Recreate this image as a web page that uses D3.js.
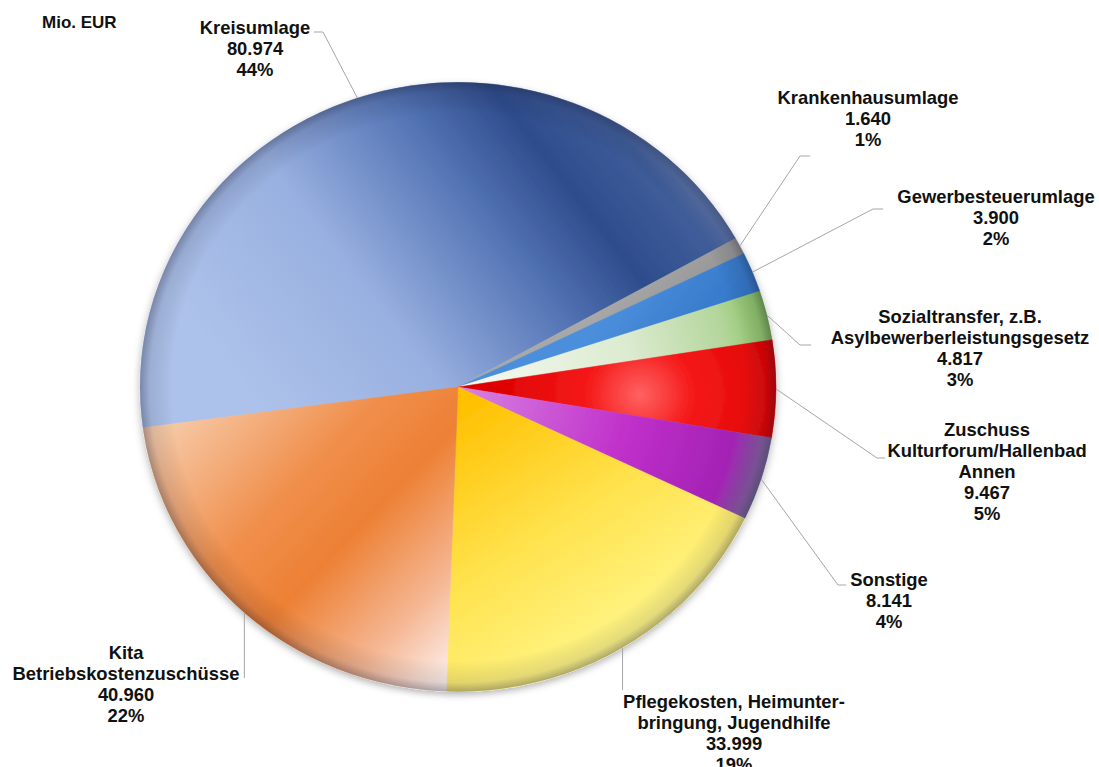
<!DOCTYPE html>
<html>
<head>
<meta charset="utf-8">
<script src="https://cdn.jsdelivr.net/npm/d3@7"></script>
<style>
  html, body { margin: 0; padding: 0; background: #ffffff; }
  svg { display: block; }
  text { font-family: "Liberation Sans", Arial, sans-serif; font-weight: bold; fill: #111; }
</style>
</head>
<body>
<svg id="chart" width="1099" height="767"></svg>
<script>
// Expenditure items (Mio. EUR), clockwise from the left side of the pie
const categories = [
  ["Kreisumlage"],
  ["Krankenhausumlage"],
  ["Gewerbesteuerumlage"],
  ["Sozialtransfer, z.B.", "Asylbewerberleistungsgesetz"],
  ["Zuschuss", "Kulturforum/Hallenbad", "Annen"],
  ["Sonstige"],
  ["Pflegekosten, Heimunter-", "bringung, Jugendhilfe"],
  ["Kita", "Betriebskostenzuschüsse"]
];
const values = [80.974, 1.640, 3.900, 4.817, 9.467, 8.141, 33.999, 40.960];
const percentLabels = ["44%", "1%", "2%", "3%", "5%", "4%", "19%", "22%"];
const unitLabel = "Mio. EUR";

// Layout
const cx = 458, cy = 387, radius = 318, yScale = 0.958;
const startDeg = 262.3;
const fontSize = 18.4, lineGap = 21;
// label block: centre x, first baseline y, elbow point and end of the leader line
const labelLayout = [
  { x: 255, y: 34,  elbow: [323, 32],  end: [314, 32] },
  { x: 868, y: 104, elbow: [800, 156], end: [810, 156] },
  { x: 996, y: 203, elbow: [873, 209], end: [883, 209] },
  { x: 960, y: 323, elbow: [800, 345], end: [811, 345] },
  { x: 987, y: 436, elbow: [877, 458], end: [885, 458] },
  { x: 889, y: 586, elbow: [838, 585], end: [846, 585] },
  { x: 734, y: 708, elbow: null,       end: [null, 690] },
  { x: 126, y: 659, elbow: null,       end: [null, 678] }
];

const svg = d3.select("#chart");
const defs = svg.append("defs");

function linear(id, x1, y1, x2, y2, stops) {
  const g = defs.append("linearGradient").attr("id", id)
    .attr("gradientUnits", "userSpaceOnUse")
    .attr("x1", x1).attr("y1", y1).attr("x2", x2).attr("y2", y2);
  stops.forEach(([o, c, a]) => g.append("stop").attr("offset", o).attr("stop-color", c)
    .attr("stop-opacity", a === undefined ? 1 : a));
}
function radial(id, fx, fy, r, stops) {
  const g = defs.append("radialGradient").attr("id", id)
    .attr("gradientUnits", "userSpaceOnUse")
    .attr("cx", fx).attr("cy", fy).attr("r", r);
  stops.forEach(([o, c, a]) => g.append("stop").attr("offset", o).attr("stop-color", c)
    .attr("stop-opacity", a === undefined ? 1 : a));
}

linear("g0", -200, 20, 230, -300, [[0, "#adc2ea"], [0.3, "#98b0e0"], [0.55, "#5676b6"], [0.72, "#2e4c8c"], [0.86, "#3f5d9a"], [1, "#94a8d2"]]);
linear("g1", 240, -180, 300, -120, [[0, "#a8a8a8"], [1, "#8e8e8e"]]);
linear("g2", 200, -150, 300, -80, [[0, "#4b8fdc"], [1, "#2e72c4"]]);
radial("g3", 0, 0, 318, [[0, "#f7faf4"], [0.55, "#dcebd0"], [0.85, "#b4d69c"], [1, "#86bf5e"]]);
radial("g4", 182, 8, 150, [[0, "#ff6262"], [0.35, "#f51a1a"], [1, "#dc0000"]]);
radial("g5", 0, 0, 318, [[0, "#d884e2"], [0.55, "#c030ca"], [0.88, "#a322b4"], [1, "#7c6a9c"]]);
linear("g6", 12, 14, 200, 300, [[0, "#ffc000"], [0.45, "#ffe24c"], [1, "#fffc9c"]]);
linear("g7", -308, 55, -18, 320, [[0, "#f7caa8"], [0.35, "#f08f4c"], [0.55, "#ed8034"], [0.8, "#f5b692"], [1, "#fdf2f0"]]);
radial("rim", 0, 0, 318, [[0, "#000", 0], [0.9, "#000", 0], [0.97, "#1a1a30", 0.12], [1, "#1a1a30", 0.35]]);

const shadow = defs.append("filter").attr("id", "shadow")
  .attr("x", "-10%").attr("y", "-10%").attr("width", "120%").attr("height", "120%");
shadow.append("feDropShadow").attr("dx", 0).attr("dy", 3).attr("stdDeviation", 4)
  .attr("flood-color", "#000").attr("flood-opacity", 0.3);

const a0 = startDeg * Math.PI / 180;
const pie = d3.pie().sort(null).value(d => d).startAngle(a0).endAngle(a0 + 2 * Math.PI);
const arcs = pie(values);
const arc = d3.arc().innerRadius(0).outerRadius(radius);

const pieG = svg.append("g")
  .attr("transform", `translate(${cx},${cy}) scale(1,${yScale})`);
const slices = pieG.append("g").attr("filter", "url(#shadow)");
slices.selectAll("path").data(arcs).join("path")
  .attr("d", arc)
  .attr("fill", (d, i) => `url(#g${i})`)
  .attr("stroke", (d, i) => `url(#g${i})`)
  .attr("stroke-width", 0.5);
pieG.append("circle").attr("r", radius).attr("fill", "url(#rim)");

// edge point of a slice at its mid angle, in page coordinates
function edgePoint(d) {
  const m = (d.startAngle + d.endAngle) / 2;
  return [cx + radius * Math.sin(m), cy - radius * Math.cos(m) * yScale];
}

const leaders = svg.append("g").attr("fill", "none").attr("stroke", "#a6a6a6").attr("stroke-width", 1);
arcs.forEach((d, i) => {
  const L = labelLayout[i];
  const p = edgePoint(d);
  let pts;
  if (L.elbow) pts = [p, L.elbow, L.end];
  else pts = [p, [p[0], L.end[1]]];
  leaders.append("path").attr("d", d3.line()(pts));
});

const labels = svg.append("g").attr("text-anchor", "middle").attr("font-size", fontSize);
arcs.forEach((d, i) => {
  const L = labelLayout[i];
  const lines = categories[i].concat([values[i].toFixed(3), percentLabels[i]]);
  const t = labels.append("text").attr("x", L.x).attr("y", L.y);
  lines.forEach((s, k) => t.append("tspan").attr("x", L.x).attr("dy", k === 0 ? 0 : lineGap).text(s));
});

svg.append("text").attr("x", 42).attr("y", 28).attr("font-size", 17).text(unitLabel);
</script>
</body>
</html>
